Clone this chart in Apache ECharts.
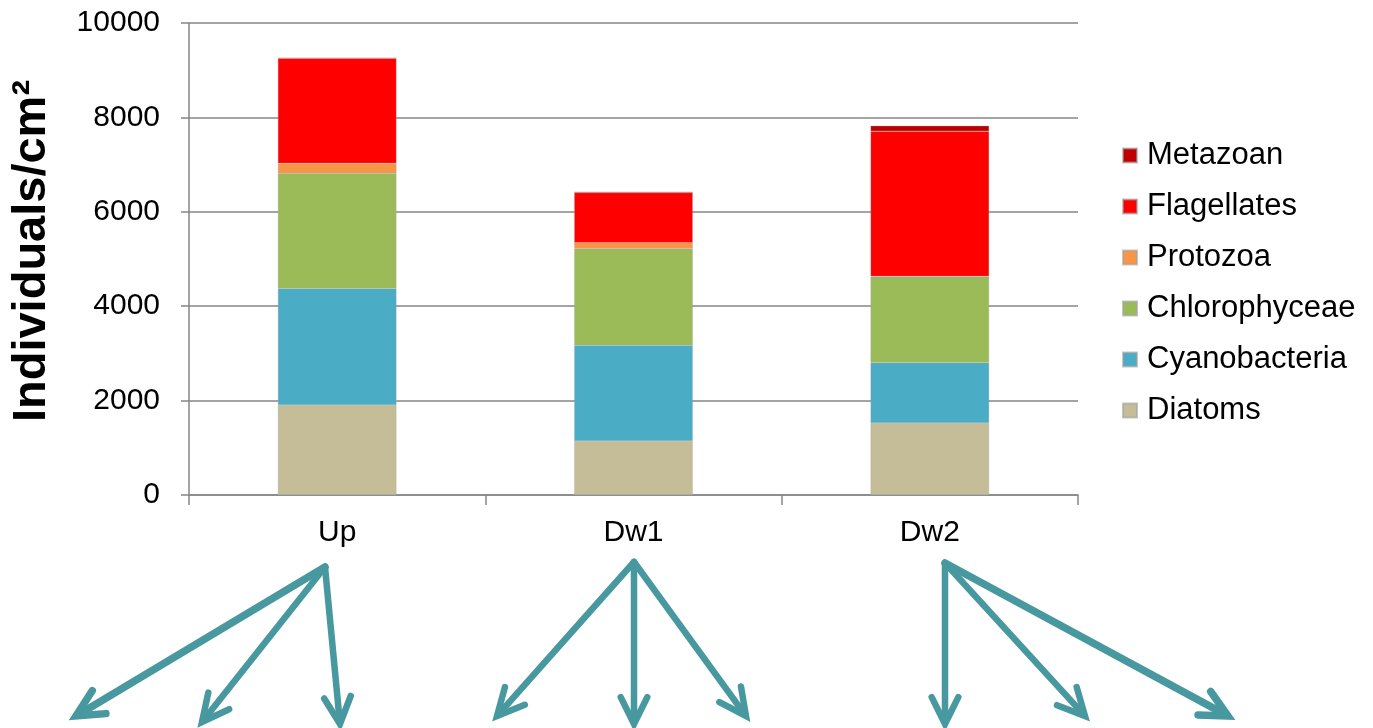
<!DOCTYPE html>
<html><head><meta charset="utf-8">
<script src="https://cdn.jsdelivr.net/npm/echarts@6/dist/echarts.min.js"></script>
<style>html,body{margin:0;padding:0;background:#fff}#c{width:1373px;height:728px}</style>
</head><body><div id="c"></div>
<script>
const categories = ['Up', 'Dw1', 'Dw2'];
const diatoms = [1905, 1143, 1524];
const cyanobacteria = [2471, 2032, 1279];
const chlorophyceae = [2440, 2041, 1820];
const protozoa = [212, 127, 10];
const flagellates = [2223, 1065, 3076];
const metazoan = [15, 15, 112];
const yTicks = [0, 2000, 4000, 6000, 8000, 10000];

const FONT = '"Liberation Sans", Arial, sans-serif';
const seriesDefs = [
  ['Diatoms', diatoms, '#C4BD97'],
  ['Cyanobacteria', cyanobacteria, '#4BACC6'],
  ['Chlorophyceae', chlorophyceae, '#9BBB59'],
  ['Protozoa', protozoa, '#F79646'],
  ['Flagellates', flagellates, '#FF0000'],
  ['Metazoan', metazoan, '#C00000']
];

// decorative arrows (start -> end) below the category labels
const arrows = [
  [[325, 567], [76, 716], 7.5],
  [[325, 567], [202, 722], 6.5],
  [[325, 567], [340, 724], 6.5],
  [[634, 562], [497, 716], 6.5],
  [[634, 562], [634, 724], 6.5],
  [[634, 562], [746, 716], 6.5],
  [[945, 563], [945, 724], 6.5],
  [[945, 563], [1085, 716], 6.5],
  [[945, 563], [1228, 716], 7.5]
];
const ARROW_COLOR = '#4898A0';
const graphics = [];
arrows.forEach(([s, e, w]) => {
  const dx = e[0] - s[0], dy = e[1] - s[1];
  const L = Math.hypot(dx, dy), ux = dx / L, uy = dy / L;
  const hl = 30, ang = 0.46;
  const c = Math.cos(ang), sn = Math.sin(ang);
  const b1 = [e[0] - hl * (ux * c - uy * sn), e[1] - hl * (uy * c + ux * sn)];
  const b2 = [e[0] - hl * (ux * c + uy * sn), e[1] - hl * (uy * c - ux * sn)];
  const tipBack = [e[0] - ux * w * 0.8, e[1] - uy * w * 0.8];
  graphics.push({ type: 'line', shape: { x1: s[0], y1: s[1], x2: tipBack[0], y2: tipBack[1] },
    style: { stroke: ARROW_COLOR, lineWidth: w, lineCap: 'round' } });
  graphics.push({ type: 'polyline', shape: { points: [b1, e, b2] },
    style: { stroke: ARROW_COLOR, lineWidth: w, fill: null, lineJoin: 'miter', lineCap: 'round' } });
});

const chart = echarts.init(document.getElementById('c'), null, { renderer: 'canvas' });
chart.setOption({
  animation: false,
  backgroundColor: '#fff',
  textStyle: { fontFamily: FONT },
  grid: { left: 189, right: 295, top: 23, bottom: 233, containLabel: false },
  legend: {
    orient: 'vertical', left: 1117, top: 135, itemGap: 20,
    itemWidth: 14, itemHeight: 14, icon: 'rect',
    textStyle: { fontSize: 31, color: '#000', fontFamily: FONT, padding: [0, 0, 0, 5] },
    data: seriesDefs.map(d => d[0]).reverse()
  },
  xAxis: {
    type: 'category', data: categories,
    axisLine: { lineStyle: { color: '#868686', width: 1.5 } },
    axisTick: { show: true, length: 10, alignWithLabel: false, lineStyle: { color: '#868686', width: 1.5 } },
    axisLabel: { fontSize: 30, color: '#000', margin: 23, fontFamily: FONT }
  },
  yAxis: {
    type: 'value', min: yTicks[0], max: yTicks[yTicks.length - 1], interval: 2000,
    name: 'Individuals/cm²', nameLocation: 'middle', nameGap: 133,
    nameTextStyle: { fontSize: 47, fontWeight: 'bold', color: '#000', fontFamily: FONT, padding: [0, 0, 0, 16] },
    axisLine: { show: true, lineStyle: { color: '#868686', width: 1.5 } },
    axisTick: { show: true, length: 8, lineStyle: { color: '#868686', width: 1.5 } },
    axisLabel: { fontSize: 30, color: '#000', margin: 29, fontFamily: FONT, formatter: v => String(v) },
    splitLine: { lineStyle: { color: '#868686', width: 1.5 } }
  },
  series: seriesDefs.map(([name, data, color]) => ({
    name, type: 'bar', stack: 'total', data, barWidth: '40%',
    itemStyle: { color, borderColor: 'rgba(160,160,160,0.6)', borderWidth: 0.5 }
  })),
  graphic: graphics
});
</script></body></html>
